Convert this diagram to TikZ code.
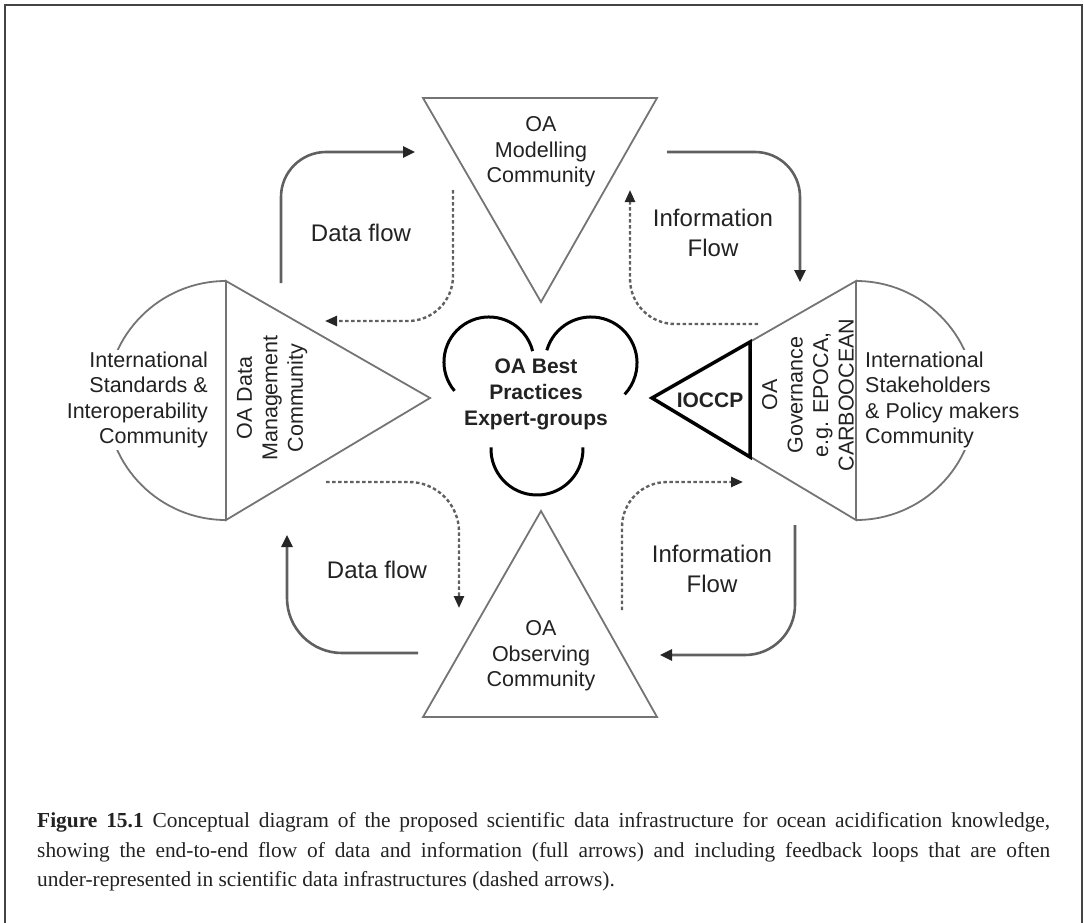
\documentclass[tikz,border=0pt]{standalone}
\usepackage{fontspec}
\setmainfont{Liberation Serif}
\newfontfamily\dsans{Liberation Sans}
\usetikzlibrary{arrows.meta}
\definecolor{linegray}{HTML}{747474}
\definecolor{arrgray}{HTML}{606060}
\definecolor{txtgray}{HTML}{222222}
\definecolor{framegray}{HTML}{444444}
\begin{document}
\begin{tikzpicture}[x=1pt,y=1pt,
  shapeline/.style={draw=linegray, line width=1.8pt, line join=miter},
  lobe/.style={draw=black, line width=3pt},
  flowarrow/.style={draw=arrgray, line width=2.6pt, -{Triangle[length=12pt,width=11pt,color=black!85]}, rounded corners=45pt},
  backarrow/.style={draw=arrgray, line width=2.4pt, dash pattern=on 3.5pt off 2.5pt, -{Triangle[length=12pt,width=10pt,color=black!85]}, rounded corners=45pt},
  commtext/.style={font=\dsans\fontsize{21.5}{25.5}\selectfont, text=txtgray, align=center, inner sep=1pt},
  flowtext/.style={font=\dsans\fontsize{24}{29.5}\selectfont, text=txtgray, align=center},
  boldtext/.style={font=\dsans\bfseries\fontsize{21}{26}\selectfont, text=txtgray, align=center},
  captext/.style={font=\fontsize{21.4}{29.5}\selectfont, text=txtgray, anchor=north west, inner sep=0pt, text width=1013pt, align=justify}
]
\useasboundingbox (0,0) rectangle (1084,-923);
% frame
\draw[draw=framegray, line width=2pt] (5,-923) -- (5,-5) -- (1082,-5) -- (1082,-923);

% top and bottom triangles
\draw[shapeline] (423,-98) -- (657,-98) -- (541,-302) -- cycle;
\draw[shapeline] (541,-511) -- (657,-717) -- (423,-717) -- cycle;
% left shape
\draw[shapeline] (226,-281) -- (226,-520) -- (430,-398) -- cycle;
\draw[shapeline] (226,-281) arc[start angle=90, end angle=270, radius=119.5];
% right shape
\draw[shapeline] (856,-281) -- (856,-520) -- (652,-398) -- cycle;
\draw[shapeline] (856,-281) arc[start angle=90, end angle=-90, radius=119.5];
% IOCCP triangle
\draw[draw=black, line width=3.5pt, line join=miter] (652,-398) -- (750,-342) -- (750,-457) -- cycle;

% central lobes
\draw[lobe] (454.5,-390.9) arc[start angle=220, end angle=14, radius=45];
\draw[lobe] (546.8,-350.3) arc[start angle=164, end angle=-43, radius=46];
\draw[lobe] (491.0,-447.4) arc[start angle=178, end angle=362, radius=46];

% texts
\node[commtext] (model) at (541,-152) {OA\\Modelling\\Community};
\node[commtext] (observ) at (541,-656) {OA\\Observing\\Community};
\node[commtext, rotate=90] (datamgmt) at (272,-398) {OA Data\\Management\\Community};
\node[commtext, rotate=90] (gov) at (808,-395) {OA\\Governance\\e.g. EPOCA,\\CARBOOCEAN};
\node[commtext, fill=white, align=right, anchor=east, inner sep=2pt] (stand) at (210,-400) {International\\Standards \&\\Interoperability\\Community};
\node[commtext, fill=white, align=left, anchor=west, inner sep=2pt] (stake) at (863,-400) {International\\Stakeholders\\\& Policy makers\\Community};
\node[boldtext] (best) at (536,-394) {OA Best\\Practices\\Expert-groups};
\node[boldtext] (ioccp) at (710,-400) {IOCCP};

\node[flowtext] (df1) at (361,-233) {Data flow};
\node[flowtext] (if1) at (713,-233) {Information\\Flow};
\node[flowtext] (df2) at (377,-570) {Data flow};
\node[flowtext] (if2) at (712,-569) {Information\\Flow};

% arrow end points
\coordinate (a1s) at (281,-283); \coordinate (a1c) at (281,-152); \coordinate (a1e) at (415,-152);
\coordinate (a2s) at (453,-190); \coordinate (a2c) at (453,-321); \coordinate (a2e) at (325,-321);
\coordinate (a3s) at (667,-152); \coordinate (a3c) at (800,-152); \coordinate (a3e) at (800,-282);
\coordinate (a4s) at (758,-324); \coordinate (a4c) at (630,-324); \coordinate (a4e) at (630,-190);
\coordinate (a5s) at (326,-482); \coordinate (a5c) at (459,-482); \coordinate (a5e) at (459,-608);
\coordinate (a6s) at (418,-653); \coordinate (a6c) at (287,-653); \coordinate (a6e) at (287,-535);
\coordinate (a7s) at (622,-610); \coordinate (a7c) at (622,-482); \coordinate (a7e) at (743,-482);
\coordinate (a8s) at (795,-525); \coordinate (a8c) at (795,-655); \coordinate (a8e) at (660,-655);

\draw[flowarrow] (a1s) -- (a1c) -- (a1e);
\draw[backarrow] (a2s) -- (a2c) -- (a2e);
\draw[flowarrow] (a3s) -- (a3c) -- (a3e);
\draw[backarrow] (a4s) -- (a4c) -- (a4e);
\draw[backarrow, rounded corners=50pt] (a5s) -- (a5c) -- (a5e);
\draw[flowarrow, rounded corners=55pt] (a6s) -- (a6c) -- (a6e);
\draw[backarrow] (a7s) -- (a7c) -- (a7e);
\draw[flowarrow, rounded corners=50pt] (a8s) -- (a8c) -- (a8e);

% caption
\node[captext] (cap) at (37,-812.5) {\textbf{Figure 15.1} Conceptual diagram of the proposed scientific data infrastructure for ocean acidification knowledge,\linebreak showing the end-to-end flow of data and information (full arrows) and including feedback loops that are often\linebreak under-represented in scientific data infrastructures (dashed arrows).};
\end{tikzpicture}
\end{document}
